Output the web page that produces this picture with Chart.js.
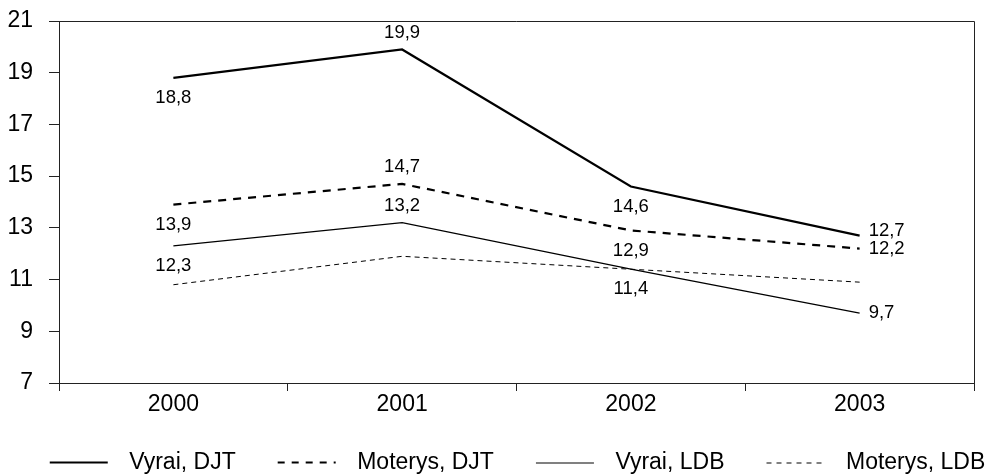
<!DOCTYPE html>
<html>
<head>
<meta charset="utf-8">
<script src="https://cdn.jsdelivr.net/npm/chart.js@4.4.1/dist/chart.umd.min.js"></script>
<style>
    html, body { margin: 0; padding: 0; background: #fff; overflow: hidden; }
    #wrap { position: relative; width: 997px; height: 484px; }
</style>
</head>
<body>
<div id="wrap"><canvas id="chart"></canvas></div>
<script>
const years = ['2000', '2001', '2002', '2003'];
const vyraiDJT = [18.8, 19.9, 14.6, 12.7];
const moterysDJT = [13.9, 14.7, 12.9, 12.2];
const vyraiLDB = [12.3, 13.2, 11.4, 9.7];
const moterysLDB = [10.8, 11.9, 11.4, 10.9];
const yMin = 7, yMax = 21, yStep = 2;

const FONT = '"Liberation Sans", Arial, Helvetica, sans-serif';

// where each value label sits relative to its point
const labelOffsets = { below: [0, 20], above: [0, -17], right: [9, 0], rightUp: [9, -5] };

// legend swatch: transparent left margin gives spacing between items
function swatch(width, dash) {
    const c = document.createElement('canvas');
    c.width = 106; c.height = 8;
    const g = c.getContext('2d');
    g.strokeStyle = '#000';
    g.lineWidth = width;
    g.setLineDash(dash);
    const y = width % 2 ? 4.5 : 4;
    g.beginPath(); g.moveTo(38, y); g.lineTo(96, y); g.stroke();
    return c;
}

const valueLabels = {
    id: 'valueLabels',
    afterDatasetsDraw(chart) {
        const ctx = chart.ctx;
        ctx.save();
        ctx.font = '18.5px ' + FONT;
        ctx.fillStyle = '#000';
        ctx.textBaseline = 'middle';
        chart.data.datasets.forEach((ds, i) => {
            if (!ds.labelPos) return;
            chart.getDatasetMeta(i).data.forEach((pt, j) => {
                const pos = ds.labelPos[j];
                const [dx, dy] = labelOffsets[pos];
                ctx.textAlign = pos.startsWith('right') ? 'left' : 'center';
                ctx.fillText(ds.data[j].toFixed(1).replace('.', ','), pt.x + dx, pt.y + dy);
            });
        });
        ctx.restore();
    }
};

// top and right edges of the plot box
const frame = {
    id: 'frame',
    afterDraw(chart) {
        const { left, top, right, bottom } = chart.chartArea;
        const ctx = chart.ctx;
        ctx.save();
        ctx.strokeStyle = '#222';
        ctx.lineWidth = 1;
        ctx.beginPath();
        ctx.moveTo(Math.round(left), Math.round(top) + 0.5);
        ctx.lineTo(Math.round(right) + 0.5, Math.round(top) + 0.5);
        ctx.lineTo(Math.round(right) + 0.5, Math.round(bottom) + 8);
        ctx.stroke();
        ctx.restore();
    }
};

new Chart(document.getElementById('chart'), {
    type: 'line',
    data: {
        labels: years,
        datasets: [
            { label: 'Vyrai, DJT', data: vyraiDJT, borderColor: '#000', borderWidth: 2.2, pointStyle: swatch(2, []), labelPos: ['below', 'above', 'below', 'rightUp'] },
            { label: 'Moterys, DJT', data: moterysDJT, borderColor: '#000', borderWidth: 2.2, borderDash: [8, 7], pointStyle: swatch(2, [7, 7]), labelPos: ['below', 'above', 'below', 'right'] },
            { label: 'Vyrai, LDB', data: vyraiLDB, borderColor: '#000', borderWidth: 1.3, pointStyle: swatch(1, []), labelPos: ['below', 'above', 'below', 'right'] },
            { label: 'Moterys, LDB', data: moterysLDB, borderColor: '#000', borderWidth: 1, borderDash: [5, 4], pointStyle: swatch(1, [5, 5]) }
        ]
    },
    options: {
        responsive: true,
        maintainAspectRatio: false,
        animation: false,
        layout: { padding: { top: 21, right: 0, left: 0, bottom: 0 } },
        elements: {
            line: { tension: 0, fill: false },
            point: { radius: 0, hoverRadius: 0 }
        },
        plugins: {
            tooltip: { enabled: false },
            legend: {
                position: 'bottom',
                labels: {
                    usePointStyle: true,
                    pointStyleWidth: 106,
                    padding: 4,
                    color: '#000',
                    font: { family: FONT, size: 23 }
                }
            }
        },
        scales: {
            x: {
                offset: true,
                grid: { offset: true, drawOnChartArea: false, drawTicks: true, tickLength: 8, color: '#222' },
                border: { color: '#222', width: 1 },
                ticks: { color: '#000', padding: 0, font: { family: FONT, size: 23 } },
                afterFit: (axis) => { axis.height = 64; }
            },
            y: {
                min: yMin,
                max: yMax,
                grid: { drawOnChartArea: false, drawTicks: true, tickLength: 10, color: '#222' },
                border: { color: '#222', width: 1 },
                ticks: { stepSize: yStep, color: '#000', padding: 16, font: { family: FONT, size: 23 } },
                // fixed width; the top label needs no extra room beyond layout padding
                afterFit: (axis) => { axis.width = 59; axis.paddingTop = 0; }
            },
            // empty right margin, kept as an axis so the legend can use the full width
            yRight: {
                position: 'right',
                display: true,
                grid: { display: false, drawTicks: false },
                border: { display: false },
                ticks: { display: false },
                afterFit: (axis) => { axis.width = 23; }
            }
        }
    },
    plugins: [valueLabels, frame]
});
</script>
</body>
</html>
